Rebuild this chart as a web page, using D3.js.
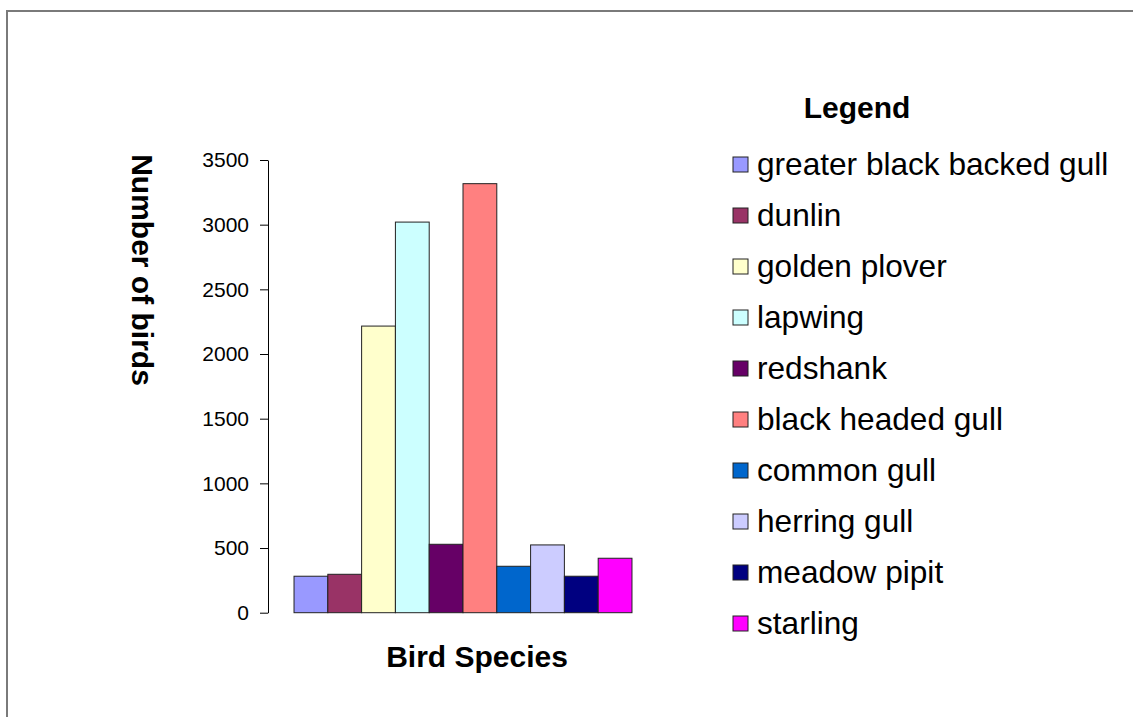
<!DOCTYPE html>
<html>
<head>
<meta charset="utf-8">
<script src="https://cdn.jsdelivr.net/npm/d3@7"></script>
<style>
  body { margin: 0; background: #fff; }
  svg { display: block; font-family: "Liberation Sans", Arial, sans-serif; }
</style>
</head>
<body>
<div id="container"></div>
<script>
// bird counts
var species = ["greater black backed gull", "dunlin", "golden plover", "lapwing", "redshank",
               "black headed gull", "common gull", "herring gull", "meadow pipit", "starling"];
var counts = [282, 297, 2216, 3020, 529, 3317, 359, 524, 282, 421];
var yTicks = [0, 500, 1000, 1500, 2000, 2500, 3000, 3500];
var palette = ["#9999ff", "#993366", "#ffffcc", "#ccffff", "#660066",
               "#ff8080", "#0066cc", "#ccccff", "#000080", "#ff00ff"];

(function(){
    var width = 1133, height = 717;

    var svg = d3.select("#container")
        .append("svg")
        .attr("width", width)
        .attr("height", height);

    //chart area frame, cut off by the window on right and bottom
    svg.append("rect")
        .attr("x", 7).attr("y", 11)
        .attr("width", width + 20).attr("height", height + 20)
        .attr("fill", "#fff")
        .attr("stroke", "#7a7a7a")
        .attr("stroke-width", 2);

    var y = d3.scaleLinear()
        .domain([0, 3500])
        .range([612.7, 160]);

    var x = d3.scaleBand()
        .domain(species)
        .range([268, 658])
        .paddingInner(0)
        .paddingOuter(0.77);

    //bars
    svg.append("g").selectAll("rect")
        .data(species)
        .enter().append("rect")
        .attr("x", function(d){ return x(d); })
        .attr("y", function(d, i){ return y(counts[i]); })
        .attr("width", x.bandwidth())
        .attr("height", function(d, i){ return y(0) - y(counts[i]); })
        .attr("fill", function(d, i){ return palette[i]; })
        .attr("stroke", "#222")
        .attr("stroke-width", 1);

    //value axis
    var yAxis = svg.append("g")
        .attr("transform", "translate(268,0)")
        .call(d3.axisLeft(y).tickValues(yTicks).tickFormat(d3.format("d"))
            .tickSize(8).tickPadding(11).tickSizeOuter(0));
    yAxis.select(".domain").attr("stroke", "#000");
    yAxis.selectAll(".tick line").attr("stroke", "#000");
    yAxis.selectAll("text")
        .attr("font-size", 21)
        .attr("font-family", "Liberation Sans, Arial, sans-serif")
        .attr("fill", "#000");

    //axis titles
    svg.append("text")
        .attr("transform", "translate(132,270) rotate(90)")
        .attr("text-anchor", "middle")
        .attr("font-size", 30)
        .attr("font-weight", "bold")
        .text("Number of birds");

    svg.append("text")
        .attr("x", 477).attr("y", 667)
        .attr("text-anchor", "middle")
        .attr("font-size", 30)
        .attr("font-weight", "bold")
        .text("Bird Species");

    //legend
    svg.append("text")
        .attr("x", 857).attr("y", 118)
        .attr("text-anchor", "middle")
        .attr("font-size", 30)
        .attr("font-weight", "bold")
        .text("Legend");

    var items = svg.append("g").selectAll("g")
        .data(species)
        .enter().append("g")
        .attr("transform", function(d, i){ return "translate(0," + (51 * i) + ")"; });

    items.append("rect")
        .attr("x", 733).attr("y", 157)
        .attr("width", 15).attr("height", 15)
        .attr("fill", function(d, i){ return palette[i]; })
        .attr("stroke", "#222")
        .attr("stroke-width", 1);

    items.append("text")
        .attr("x", 757).attr("y", 175)
        .attr("font-size", 31.6)
        .text(function(d){ return d; });
})();
</script>
</body>
</html>
